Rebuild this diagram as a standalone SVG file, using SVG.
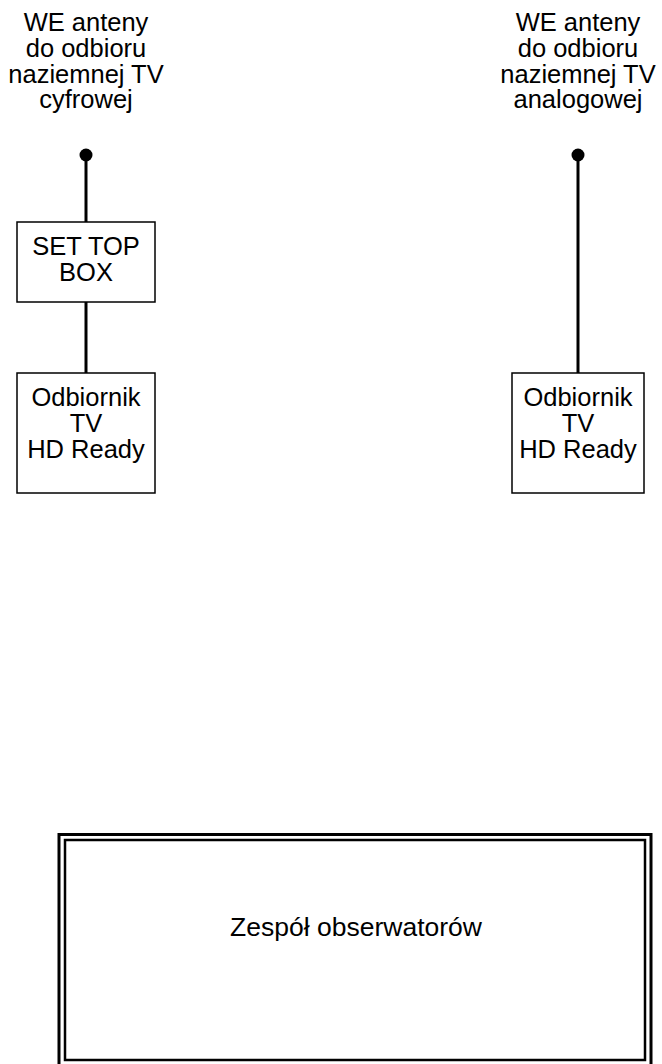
<svg xmlns="http://www.w3.org/2000/svg" width="662" height="1064" viewBox="0 0 662 1064">
<style>
text{font-family:"Liberation Sans",Arial,sans-serif;font-size:25.5px;fill:#000;text-anchor:middle}
.box{fill:#fff;stroke:#000;stroke-width:1.5}
.wire{stroke:#000;stroke-width:3;fill:none}
</style>
<rect width="662" height="1064" fill="#fff"/>
<g id="connectors">
<line class="wire" x1="86" y1="155" x2="86" y2="222"/>
<line class="wire" x1="86" y1="302" x2="86" y2="373"/>
<line class="wire" x1="578" y1="155" x2="578" y2="373"/>
<circle cx="86" cy="155" r="6.5" fill="#000"/>
<circle cx="578" cy="155" r="6.5" fill="#000"/>
</g>
<g id="label-left">
<text x="86" y="31">WE anteny</text>
<text x="86" y="57">do odbioru</text>
<text x="86" y="83">naziemnej TV</text>
<text x="86" y="108">cyfrowej</text>
</g>
<g id="label-right">
<text x="578" y="31">WE anteny</text>
<text x="578" y="57">do odbioru</text>
<text x="578" y="83">naziemnej TV</text>
<text x="578" y="108">analogowej</text>
</g>
<g id="stb">
<rect class="box" x="17" y="222" width="138" height="80"/>
<text x="86" y="255">SET TOP</text>
<text x="86" y="281">BOX</text>
</g>
<g id="tv-left">
<rect class="box" x="17" y="373" width="138" height="120"/>
<text x="86" y="406">Odbiornik</text>
<text x="86" y="432">TV</text>
<text x="86" y="458">HD Ready</text>
</g>
<g id="tv-right">
<rect class="box" x="512" y="373" width="132" height="120"/>
<text x="578" y="406">Odbiornik</text>
<text x="578" y="432">TV</text>
<text x="578" y="458">HD Ready</text>
</g>
<g id="observers">
<rect x="59" y="834.5" width="592" height="240" fill="none" stroke="#000" stroke-width="3"/>
<rect x="65" y="840" width="580" height="220" fill="none" stroke="#000" stroke-width="2.5"/>
<text x="356" y="936" style="font-size:26.5px">Zespół obserwatorów</text>
</g>
</svg>
